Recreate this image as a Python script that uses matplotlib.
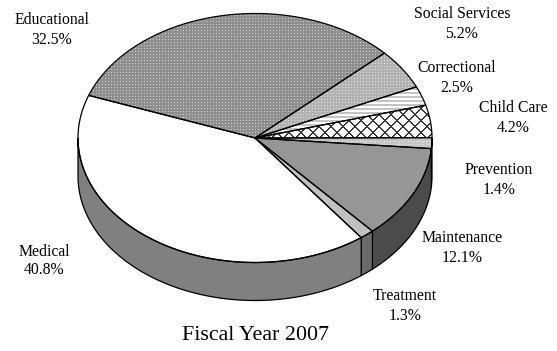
import numpy as np
import matplotlib
matplotlib.use("Agg")
import matplotlib.pyplot as plt
from matplotlib.patches import Polygon

# Budget shares by program area (percent)
categories = ["Educational", "Social Services", "Correctional", "Child Care",
              "Prevention", "Maintenance", "Treatment", "Medical"]
shares = [32.5, 5.2, 2.5, 4.2, 1.4, 12.1, 1.3, 40.8]
title = "Fiscal Year 2007"

# label anchor points (pixel coordinates, y downward)
label_xy = [(52, 30), (462, 24), (457, 78), (513, 118),
            (499, 180), (462, 248), (405, 306), (44, 261)]

W, H = 557, 351
fig = plt.figure(figsize=(W / 100, H / 100), dpi=100)
ax = fig.add_axes([0, 0, 1, 1])
ax.set_xlim(0, W)
ax.set_ylim(H, 0)
ax.axis("off")

CX, CY, RX, RY, DEPTH = 255.0, 138.0, 177.0, 124.5, 38.0
START = 160.0
FONT = "Liberation Serif"

yy, xx = np.mgrid[0:H, 0:W]


def rgb(h):
    h = h.lstrip("#")
    return np.array([int(h[i:i + 2], 16) / 255 for i in (0, 2, 4)])


def solid(c):
    img = np.empty((H, W, 3))
    img[:] = rgb(c)
    return img


def dotted(base, dot, period=3):
    img = solid(base)
    mask = (yy % period == 0) & (xx % period == 0)
    img[mask] = rgb(dot)
    return img


def striped(c1, c2, period=4, width=2):
    img = solid(c2)
    img[(yy % period) < width] = rgb(c1)
    return img


def crosshatch(bg, line, period=12, width=2):
    img = solid(bg)
    mask = ((xx + yy) % period < width) | ((xx - yy) % period < width)
    img[mask] = rgb(line)
    return img


top_fill = [
    dotted("#8e8e8e", "#d2d2d2"),
    dotted("#b2b2b2", "#e2e2e2"),
    striped("#c4c4c4", "#ffffff"),
    crosshatch("#ffffff", "#3a3a3a"),
    dotted("#c6c6c6", "#ececec"),
    solid("#969696"),
    solid("#c0c0c0"),
    solid("#ffffff"),
]
side_fill = ["#808080", "#7a7a7a", "#7a7a7a", "#5a5a5a",
             "#555555", "#4b4b4b", "#6a6a6a", "#808080"]


def rim(t0, t1, n=None, dy=0.0):
    if n is None:
        n = max(2, int(abs(t1 - t0) * 2) + 2)
    t = np.radians(np.linspace(t0, t1, n))
    return np.column_stack([CX + RX * np.cos(t), CY - RY * np.sin(t) + dy])


def textured(poly_xy, img):
    poly = Polygon(poly_xy, closed=True, facecolor="none", edgecolor="none")
    ax.add_patch(poly)
    im = ax.imshow(img, extent=(0, W, H, 0), interpolation="nearest",
                   zorder=1, aspect="auto")
    im.set_clip_path(poly)


# slice angular ranges, running clockwise from START
total = sum(shares)
bounds = []
a = START
for v in shares:
    b = a - 360.0 * v / total
    bounds.append((a, b))
    a = b

# front walls (only the lower half of the rim is visible)
for (a0, a1), col in zip(bounds, side_fill):
    lo, hi = min(a0, a1), max(a0, a1)
    for shift in (0, -360, 360):
        s0, s1 = max(lo + shift, -180), min(hi + shift, 0)
        if s1 > s0:
            top = rim(s1, s0)
            bot = rim(s0, s1, dy=DEPTH)
            ax.add_patch(Polygon(np.vstack([top, bot]), closed=True,
                                 facecolor=col, edgecolor="black",
                                 linewidth=0.9, zorder=2))

# top surface
for (a0, a1), img in zip(bounds, top_fill):
    pts = np.vstack([[CX, CY], rim(a0, a1), [CX, CY]])
    textured(pts, img)
    ax.add_patch(Polygon(pts, closed=True, facecolor="none",
                         edgecolor="black", linewidth=0.9, zorder=3))

# labels
for (x, y), cat, v in zip(label_xy, categories, shares):
    ax.text(x, y, f"{cat}\n{v:.1f}%", ha="center", va="center",
            fontfamily=FONT, fontsize=11.3, linespacing=1.25, zorder=5)

ax.text(256, 335, title, ha="center", va="center", fontfamily=FONT,
        fontsize=15.8, zorder=5)

fig.savefig("out.png", dpi=100)
